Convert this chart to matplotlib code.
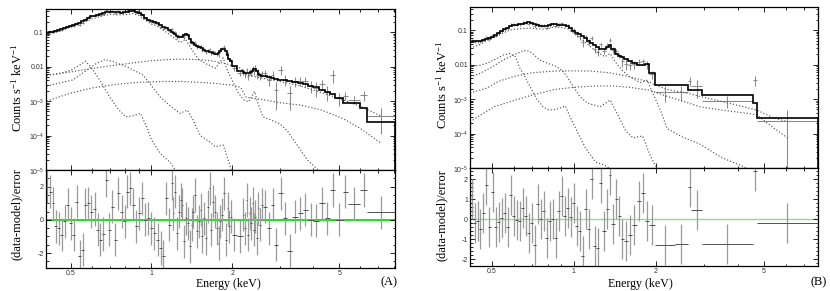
import numpy as np
import matplotlib.pyplot as plt
from matplotlib.ticker import FixedLocator, FixedFormatter, NullFormatter, MultipleLocator

plt.rcParams['font.family'] = ['Liberation Serif', 'DejaVu Serif']
plt.rcParams['mathtext.fontset'] = 'custom'
plt.rcParams['mathtext.rm'] = 'Liberation Serif'
plt.rcParams['mathtext.it'] = 'Liberation Serif:italic'
plt.rcParams['mathtext.bf'] = 'Liberation Serif:bold'

# ---------------- Panel A data ----------------
EDGES_A = [0.405, 0.415, 0.425, 0.435, 0.446, 0.458, 0.470, 0.482, 0.494, 0.507, 0.520, 0.533,
           0.547, 0.561, 0.575, 0.590, 0.606, 0.622, 0.638, 0.654, 0.671, 0.689, 0.707, 0.725,
           0.744, 0.764, 0.784, 0.804, 0.825, 0.846, 0.868, 0.891, 0.914, 0.938, 0.962, 0.987,
           1.013, 1.040, 1.067, 1.095, 1.123, 1.152, 1.180,
           1.198, 1.217, 1.236, 1.255, 1.275, 1.295, 1.315, 1.335, 1.356, 1.377, 1.399, 1.421,
           1.443, 1.466, 1.489, 1.512, 1.535, 1.559, 1.583, 1.608, 1.633, 1.658, 1.684, 1.710,
           1.737, 1.764, 1.791, 1.819, 1.847, 1.876, 1.905, 1.935, 1.965, 1.995,
           2.08, 2.185,
           2.215, 2.245, 2.275, 2.305, 2.335, 2.365, 2.395, 2.425, 2.455, 2.485, 2.52, 2.56, 2.60,
           2.69, 2.78, 2.87, 2.97, 3.08, 3.2, 3.34, 3.5, 3.66, 3.83, 4.01, 4.2, 4.41, 4.62, 4.83,
           5.17, 5.39, 5.99, 6.35, 8.07]

MODEL_A = [0.094, 0.098, 0.103, 0.108, 0.115, 0.122, 0.13, 0.14, 0.15, 0.162, 0.175, 0.19,
           0.21, 0.23, 0.26, 0.285, 0.30, 0.32, 0.34, 0.36, 0.375, 0.39, 0.395, 0.385, 0.375,
           0.37, 0.375, 0.39, 0.41, 0.405, 0.38, 0.35, 0.31, 0.26, 0.225,
           0.21, 0.2, 0.185, 0.165, 0.145, 0.128, 0.112,
           0.1, 0.092, 0.086, 0.078, 0.072, 0.07, 0.074, 0.084, 0.088, 0.08, 0.062, 0.052,
           0.047, 0.043, 0.04, 0.038, 0.036, 0.034, 0.031, 0.029, 0.028, 0.027, 0.026, 0.025,
           0.024, 0.024, 0.025, 0.028, 0.032, 0.033, 0.028, 0.022, 0.017, 0.0145,
           0.0105, 0.0075,
           0.0068, 0.0066, 0.0065, 0.0065, 0.0066, 0.0068, 0.0074, 0.0085, 0.0088, 0.0075,
           0.0062, 0.0057, 0.0055,
           0.0052, 0.0049, 0.0046, 0.0044, 0.0042, 0.004, 0.0038, 0.0036, 0.0034, 0.0031,
           0.0028, 0.0025, 0.0021, 0.0018, 0.0016,
           0.0012, 0.00086, 0.00086, 0.00061, 0.00025]

RESID_A = [2.0, 1.7, 1.0, -0.4, -0.5, -0.9, -0.1, 0.9, -0.2, -0.9, 1.1, -2.2, -1.8, 0.9, 1.0,
           0.5, 0.65, -0.6, -1.2, -0.85, 2.4, -0.6, 0.8, -1.2, 1.6, 0.5, -0.1, 1.7, 1.9, 0.9,
           -0.4, 0.4, 1.3, 0.0, 0.1,
           -0.5, -0.8, -1.2, -1.7, -2.2, 1.3, -0.3,
           2.2, 0.4, 1.7, -0.8, 0.5, 1.2, 0.9, -1.3, 0.1, -0.2, -1.6, -0.3, 0.5, 1.5, -0.7,
           -0.1, 0.6, -1.0, 0.1, -1.1, 0.8, 1.9, -0.6, 1.1, 0.5, -0.5, -1.4, -0.1, 0.3, 1.6,
           -1.2, 0.7, -0.4, 0.2,
           -0.9, -1.0,
           0.3, -0.5, 1.2, -0.9, 0.4, -0.2, 1.0, -0.6, 0.2, -1.1, 0.7, -0.3, 0.9,
           0.8, -0.5, 0.9, -1.5, 1.6, 0.1, -1.85, 0.2, 0.4, 0.6, 0.0, -0.05, 1.0, 0.1, 1.8,
           0.0, 1.7, 0.95, 1.8, 0.45]

RELERR_A = [0.06] * 35 + [0.07] * 7 + [0.1] * 34 + [0.15, 0.15] + [0.2] * 13 + \
           [0.3, 0.3, 0.3, 0.35, 0.6, 0.35, 0.3, 0.35, 0.35, 0.4, 0.4, 0.45, 0.5, 0.5, 1.4] + \
           [0.4, 0.4, 0.3, 0.8, 1.0]

# model components, panel A
T1_A_E = [0.407, 0.45, 0.5, 0.55, 0.6, 0.65, 0.7, 0.75, 0.8, 0.85, 0.9, 0.95, 1.0, 1.05, 1.1,
          1.2, 1.28, 1.34, 1.4, 1.5, 1.6, 1.73, 1.85, 1.92, 2.0, 2.1, 2.2, 2.3, 2.42, 2.5,
          2.6, 2.8, 3.0, 3.2, 3.4, 3.8, 4.3]
T1_A_V = [0.08, 0.105, 0.14, 0.18, 0.24, 0.29, 0.33, 0.32, 0.32, 0.35, 0.3, 0.22, 0.17, 0.15,
          0.12, 0.072, 0.05, 0.062, 0.035, 0.016, 0.012, 0.009, 0.018, 0.0075, 0.004, 0.0018,
          0.0011, 0.00095, 0.0019, 0.0008, 0.00035, 0.00028, 0.00022, 0.00014, 0.00007,
          0.00002, 0.000008]
H_A_E = [0.407, 0.5, 0.6, 0.7, 0.8, 0.9, 1.0, 1.15, 1.3, 1.5, 1.7, 1.9, 2.0, 2.15, 2.25, 2.6,
         3.0, 3.5, 4.0, 5.0, 6.0, 7.16]
H_A_V = [0.0056, 0.007, 0.0088, 0.0105, 0.012, 0.0135, 0.0148, 0.016, 0.0165, 0.016, 0.0145,
         0.012, 0.0105, 0.009, 0.0058, 0.0046, 0.0037, 0.0029, 0.0021, 0.0012, 0.0007, 0.00037]
P_A_E = [0.407, 0.5, 0.6, 0.75, 0.9, 1.1, 1.3, 1.5, 1.7, 2.0, 2.15, 2.25, 2.6, 3.0, 3.6, 4.3,
         5.17, 6.0, 7.16]
P_A_V = [0.001, 0.0017, 0.0024, 0.0031, 0.0035, 0.0037, 0.0037, 0.0035, 0.0033, 0.0029, 0.0025,
         0.0013, 0.0011, 0.0009, 0.00076, 0.00055, 0.00031, 0.00016, 0.00006]
S1_A_E = [0.407, 0.45, 0.5, 0.54, 0.568, 0.6, 0.65, 0.7, 0.75, 0.8, 0.85, 0.91, 0.96, 1.0,
          1.08, 1.18, 1.25]
S1_A_V = [0.0057, 0.0062, 0.0078, 0.011, 0.0144, 0.009, 0.0035, 0.0013, 0.0006, 0.00035,
          0.00037, 0.00044, 0.00018, 0.000075, 0.00003, 0.000016, 0.000008]
S2_A_E = [0.407, 0.45, 0.51, 0.57, 0.62, 0.67, 0.72, 0.81, 0.93, 1.0, 1.08, 1.18, 1.28, 1.36,
          1.43, 1.52, 1.64, 1.73, 1.85, 1.93, 2.0]
S2_A_V = [0.0027, 0.0033, 0.0041, 0.0075, 0.012, 0.016, 0.014, 0.0099, 0.0057, 0.0028, 0.0013,
          0.0007, 0.00044, 0.00055, 0.00028, 0.0001, 0.000067, 0.000047, 0.000053, 0.00002,
          0.000008]

# ---------------- Panel B data ----------------
EDGES_B = [0.415, 0.426, 0.437, 0.448, 0.459, 0.471, 0.483, 0.496, 0.509, 0.522, 0.535, 0.549,
           0.563, 0.578, 0.593, 0.608, 0.624, 0.640, 0.656, 0.673, 0.691, 0.709, 0.727, 0.746,
           0.765, 0.785, 0.805, 0.826, 0.847, 0.869, 0.892, 0.915, 0.938, 0.962, 0.987, 1.013,
           1.039, 1.066, 1.093, 1.122, 1.151, 1.18, 1.21, 1.242, 1.274, 1.307, 1.341, 1.375,
           1.411, 1.447, 1.485,
           1.53, 1.58, 1.64, 1.70, 1.76, 1.83, 1.89, 1.98,
           2.35, 2.63, 2.7, 2.96, 4.55, 4.7, 7.9]

MODEL_B = [0.046, 0.047, 0.048, 0.05, 0.052, 0.054, 0.058, 0.064, 0.072, 0.082, 0.092, 0.105,
           0.118, 0.13, 0.14, 0.145, 0.15, 0.155, 0.162, 0.167, 0.16, 0.148, 0.14, 0.135, 0.13,
           0.13, 0.14, 0.148, 0.15, 0.145, 0.14, 0.138, 0.13, 0.115, 0.095, 0.085, 0.075,
           0.066, 0.058, 0.05, 0.043, 0.037, 0.032, 0.029, 0.028, 0.033, 0.037, 0.028, 0.021,
           0.018,
           0.0165, 0.0145, 0.0125, 0.011, 0.0097, 0.0095, 0.0105, 0.0056,
           0.0026, 0.0026, 0.0018, 0.0018, 0.0013, 0.00075, 0.00028]

RESID_B = [1.0, -0.2, -0.1, -0.5, 0.3, 1.7, -0.4, 1.35, -0.4, -0.15, 0.05, 0.3, -0.4, 1.2,
           0.15, -0.05, -0.1, 0.55, 0.15, -0.7, -0.2, -1.3, 0.75, 0.0, 0.4, -0.95, -0.1, 0.0,
           -0.95, 0.4, 1.15, 0.15, 0.55, 0.1, 0.8, -0.35, -0.6, -1.85, 0.5, -0.5, 2.0, -1.35,
           -1.45, 1.8, -0.6, 0.5, 2.2, -0.25, 1.0, 0.15,
           -1.0, -1.1, -0.8, -0.3, 0.9, 1.3, -0.1, -0.3,
           -1.28, -1.23, 1.6, 0.45, -1.25, 2.4, -0.2]

RELERR_B = [0.1] * 35 + [0.18] * 15 + [0.25] * 8 + [0.3, 0.3, 0.55, 0.7, 0.25, 1.6, 0.9]

T1_B_E = [0.415, 0.45, 0.48, 0.535, 0.58, 0.63, 0.69, 0.74, 0.8, 0.85, 0.9, 0.95, 1.0, 1.05,
          1.12, 1.2, 1.3, 1.36, 1.42, 1.5, 1.6, 1.75, 1.86, 1.95, 2.1, 2.2, 2.5, 2.9, 3.5,
          4.2, 4.5]
T1_B_V = [0.03, 0.038, 0.05, 0.075, 0.1, 0.11, 0.115, 0.108, 0.11, 0.125, 0.12, 0.11, 0.08,
          0.06, 0.04, 0.025, 0.017, 0.021, 0.012, 0.007, 0.0045, 0.003, 0.0035, 0.0015,
          0.0004, 0.00014, 0.00008, 0.00005, 0.00002, 0.000011, 0.000008]
H_B_E = [0.415, 0.48, 0.53, 0.6, 0.7, 0.85, 1.0, 1.15, 1.35, 1.6, 1.9, 1.98, 2.2, 2.6, 2.9,
         3.5, 4.2, 4.7, 5.4, 6.1]
H_B_V = [0.0015, 0.0021, 0.0033, 0.0045, 0.0058, 0.0065, 0.0066, 0.0065, 0.0058, 0.0045,
         0.0031, 0.0026, 0.0019, 0.0015, 0.0012, 0.00085, 0.0006, 0.00048, 0.00029, 0.00022]
P_B_E = [0.415, 0.45, 0.51, 0.6, 0.7, 0.85, 1.0, 1.2, 1.4, 1.6, 1.9, 2.2, 2.6, 2.9, 3.5, 4.2,
         4.7, 5.4, 6.1]
P_B_V = [0.00022, 0.00033, 0.0006, 0.0009, 0.0013, 0.0019, 0.0022, 0.0024, 0.0024, 0.0022,
         0.0018, 0.0012, 0.0008, 0.0006, 0.00048, 0.0004, 0.00035, 0.00015, 0.000075]
S1_B_E = [0.415, 0.45, 0.48, 0.52, 0.55, 0.58, 0.61, 0.633, 0.66, 0.69, 0.73, 0.77, 0.81,
          0.86, 0.93, 0.97, 1.02, 1.1, 1.2, 1.3, 1.4]
S1_B_V = [0.0087, 0.0095, 0.011, 0.015, 0.019, 0.021, 0.017, 0.0079, 0.0045, 0.0023, 0.001,
          0.0006, 0.00048, 0.0005, 0.00063, 0.0003, 0.00013, 0.00004, 0.000015, 0.000012,
          0.000008]
S2_B_E = [0.415, 0.45, 0.5, 0.548, 0.6, 0.64, 0.67, 0.7, 0.75, 0.8, 0.866, 0.92, 0.98, 1.05,
          1.12, 1.25, 1.36, 1.45, 1.55, 1.65, 1.79, 1.9, 2.0]
S2_B_V = [0.0044, 0.0055, 0.0085, 0.0135, 0.019, 0.024, 0.026, 0.022, 0.0135, 0.011, 0.0087,
          0.006, 0.0028, 0.0012, 0.00076, 0.0006, 0.00094, 0.00035, 0.00012, 0.000075,
          0.000085, 0.000025, 0.000011]

XTICKS = [0.5, 1, 2, 5]
XTICKLABELS = ['0.5', '1', '2', '5']
YTICKS_TOP = [0.1, 0.01, 1e-3, 1e-4, 1e-5]
YTICKLABELS_TOP = ['0.1', '0.01', '10$^{\\mathregular{-3}}$', '10$^{\\mathregular{-4}}$',
                   '10$^{\\mathregular{-5}}$']

W, H = 830, 291
fig = plt.figure(figsize=(W / 100, H / 100), dpi=100)

TICKFAM = ['Liberation Sans', 'DejaVu Sans']
TICKSIZE = 5.0


def style_axis(ax):
    ax.tick_params(which='both', direction='in', top=True, right=True, colors='black',
                   labelcolor='#333333', width=0.6, pad=1.5)
    ax.tick_params(which='major', length=3.5)
    ax.tick_params(which='minor', length=1.8)
    for s in ax.spines.values():
        s.set_linewidth(0.9)
    for lab in ax.get_xticklabels() + ax.get_yticklabels():
        lab.set_fontfamily(TICKFAM)
        lab.set_fontsize(TICKSIZE)


def panel(px, edges, model, resid, relerr, comps, xlim, rylim, rmajor, rminor, rlabels,
          green_color, green_lw):
    left, right, top, mid, bottom = px
    l = left / W
    w = (right - left) / W
    axT = fig.add_axes([l, 1 - mid / H, w, (mid - top) / H])
    axR = fig.add_axes([l, 1 - bottom / H, w, (bottom - mid) / H])

    edges = np.array(edges)
    model = np.array(model)
    resid = np.array(resid)
    relerr = np.array(relerr)
    cen = np.sqrt(edges[:-1] * edges[1:])
    xerr = np.vstack([cen - edges[:-1], edges[1:] - cen])
    err = model * relerr
    data = model + resid * err

    # top panel
    axT.set_xscale('log')
    axT.set_yscale('log')
    axT.errorbar(cen, data, yerr=err, xerr=xerr, fmt='none', ecolor='#8a8a8a',
                 elinewidth=0.75, capsize=0, zorder=2)
    for E, V in comps:
        axT.plot(E, V, color='#555555', lw=0.85, ls=(0, (1, 1.7)), zorder=3)
    axT.stairs(model, edges, color='black', lw=1.2, zorder=4)
    axT.set_xlim(*xlim)
    axT.set_ylim(1e-5, 0.47)
    axT.yaxis.set_major_locator(FixedLocator(YTICKS_TOP))
    axT.yaxis.set_major_formatter(FixedFormatter(YTICKLABELS_TOP))
    axT.yaxis.set_minor_locator(FixedLocator([m * 10.0 ** k for k in range(-5, 0)
                                              for m in range(2, 10)]))
    axT.yaxis.set_minor_formatter(NullFormatter())
    axT.xaxis.set_major_locator(FixedLocator(XTICKS))
    axT.xaxis.set_minor_locator(FixedLocator([0.4, 0.6, 0.7, 0.8, 0.9, 3, 4, 6, 7, 8]))
    axT.xaxis.set_major_formatter(NullFormatter())
    axT.xaxis.set_minor_formatter(NullFormatter())
    style_axis(axT)

    # residual panel
    axR.set_xscale('log')
    axR.axhline(0, color=green_color, lw=green_lw, zorder=1)
    axR.errorbar(cen, resid, yerr=np.ones_like(resid), fmt='none', ecolor='#9a9a9a',
                 elinewidth=0.9, capsize=0, zorder=2)
    axR.hlines(resid, edges[:-1], edges[1:], color='#505050', lw=0.7, zorder=3)
    axR.set_xlim(*xlim)
    axR.set_ylim(*rylim)
    axR.xaxis.set_major_locator(FixedLocator(XTICKS))
    axR.xaxis.set_major_formatter(FixedFormatter(XTICKLABELS))
    axR.xaxis.set_minor_locator(FixedLocator([0.4, 0.6, 0.7, 0.8, 0.9, 3, 4, 6, 7, 8]))
    axR.xaxis.set_minor_formatter(NullFormatter())
    axR.yaxis.set_major_locator(FixedLocator(rmajor))
    axR.yaxis.set_major_formatter(FixedFormatter(rlabels))
    axR.yaxis.set_minor_locator(MultipleLocator(rminor))
    style_axis(axR)
    return axT, axR


compsA = [(T1_A_E, T1_A_V), (H_A_E, H_A_V), (P_A_E, P_A_V), (S1_A_E, S1_A_V), (S2_A_E, S2_A_V)]
compsB = [(T1_B_E, T1_B_V), (H_B_E, H_B_V), (P_B_E, P_B_V), (S1_B_E, S1_B_V), (S2_B_E, S2_B_V)]

panel((46, 395, 9, 170, 268), EDGES_A, MODEL_A, RESID_A, RELERR_A, compsA, (0.405, 8.07),
      (-2.9, 3.0), [-2, 0, 2], 0.5, ['-2', '0', '2'], '#00e600', 1.3)
panel((470, 818, 7, 168, 266), EDGES_B, MODEL_B, RESID_B, RELERR_B, compsB, (0.415, 7.9),
      (-2.35, 2.55), [-2, -1, 0, 1, 2], 0.2, ['-2', '-1', '0', '1', '2'], '#8fdc8f', 1.0)

LABFS = 9
YLAB_TOP = 'Counts s$^{\\mathregular{-1}}$ keV$^{\\mathregular{-1}}$'
for xc, yc_top, yc_res in [(17, 88, 214), (442, 85, 215)]:
    fig.text(xc / W, 1 - yc_top / H, YLAB_TOP, rotation=90, fontsize=LABFS,
             ha='center', va='center')
    fig.text(xc / W, 1 - yc_res / H, '(data-model)/error', rotation=90, fontsize=LABFS,
             ha='center', va='center')
fig.text(228 / W, 1 - 284 / H, 'Energy (keV)', fontsize=8.6, ha='center', va='center')
fig.text(640 / W, 1 - 284 / H, 'Energy (keV)', fontsize=8.6, ha='center', va='center')
fig.text(389 / W, 1 - 282 / H, '(A)', fontsize=LABFS, ha='center', va='center')
fig.text(819 / W, 1 - 282 / H, '(B)', fontsize=LABFS, ha='center', va='center')

fig.savefig('out.png', dpi=100)
